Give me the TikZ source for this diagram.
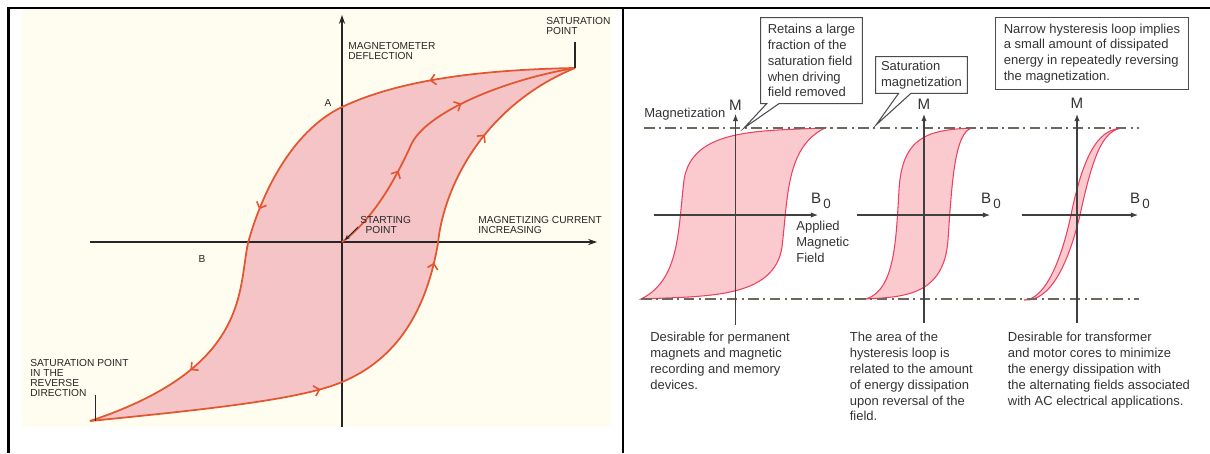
\documentclass[tikz,border=0pt]{standalone}
\usepackage{fontspec}
\setmainfont{Liberation Sans}
\usetikzlibrary{arrows.meta,shapes.callouts,decorations.markings}

\definecolor{cream}{HTML}{FFFDF0}
\definecolor{rosefill}{HTML}{F5C4C7}
\definecolor{roseline}{HTML}{E3562F}
\definecolor{pinkfill}{HTML}{FBCACE}
\definecolor{pinkline}{HTML}{EF3F5F}
\definecolor{inkgray}{HTML}{333333}
\definecolor{dashbrown}{HTML}{6F6759}

\tikzset{
  caps/.style={font=\fontsize{5.8}{5.7}\selectfont, text=black!85, inner sep=0pt, align=left},
  note/.style={font=\fontsize{7.4}{9}\selectfont, text=inkgray, inner sep=0pt, align=left},
  axislabel/.style={font=\fontsize{8.6}{9}\selectfont, text=inkgray, inner sep=0pt},
  callbox/.style={rectangle callout, draw=black!70, fill=white, line width=0.6pt,
    note, inner xsep=3pt, anchor=north west, callout pointer width=7pt},
  flow/.style={postaction={decorate, decoration={markings,
    mark=at position #1 with {\arrow{Straight Barb[length=3pt,width=6pt,line width=0.9pt]}}}}},
  oldaxis/.style={line width=0.9pt, black!85},
  newaxis/.style={line width=0.6pt, black!75, -{Latex[length=4pt,width=3pt]}},
  satline/.style={dashbrown, line width=0.7pt, dash pattern=on 6pt off 2.5pt on 1.2pt off 2.5pt},
  oldloop/.style={roseline, line width=1pt},
  newloop/.style={pinkline, fill=pinkfill, line width=0.6pt}
}

\newcommand{\bnought}{B\kern1.2pt\raisebox{-2.6pt}{\fontsize{7.6}{8}\selectfont 0}}

\begin{document}
\begin{tikzpicture}[x=0.02cm, y=-0.02cm]
  \useasboundingbox (0,0) rectangle (1210,453);

  % table frame
  \draw[line width=1.5pt] (1210,8) -- (8.5,8) -- (8.5,453);
  \draw[line width=1.5pt] (623,8) -- (623,453);

  % ---------- left: the classic loop ----------
  \fill[cream] (22,9) rectangle (611,427);

  \coordinate (o)   at (342,242);
  \coordinate (sat) at (575,68);
  \coordinate (rev) at (90,421);

  \fill[rosefill] (sat) .. controls (470,70) and (395,82) .. (342,107)
    .. controls (296,129) and (264,185) .. (248,243)
    .. controls (238,290) and (250,368) .. (rev)
    .. controls (200,410) and (300,400) .. (342,382)
    .. controls (390,362) and (425,320) .. (438,243)
    .. controls (444,185) and (485,105) .. (sat) -- cycle;

  \draw[oldaxis, -{Stealth[length=5pt,width=3.5pt]}] (342,427) -- (342,15);
  \draw[oldaxis, -{Stealth[length=5pt,width=3.5pt]}] (90,242) -- (597,242);

  \draw[oldloop, flow=0.22, flow=0.56, flow=0.83] (sat)
    .. controls (470,70) and (395,82) .. (342,107)
    .. controls (296,129) and (264,185) .. (248,243)
    .. controls (238,290) and (250,368) .. (rev);
  \draw[oldloop, flow=0.35, flow=0.62, flow=0.83] (rev)
    .. controls (200,410) and (300,400) .. (342,382)
    .. controls (390,362) and (425,320) .. (438,243)
    .. controls (444,185) and (485,105) .. (sat);
  \draw[oldloop, flow=0.30, flow=0.61] (o)
    .. controls (370,222) and (393,185) .. (411,145)
    .. controls (425,113) and (503,80) .. (sat);

  \begin{scope}[every node/.style={caps, anchor=north west}]
    \node (deflect) at (348,42)  {MAGNETOMETER\\DEFLECTION};
    \node (sattop)  at (546,17)  {SATURATION\\POINT};
    \node (satrev)  at (30,359)  {SATURATION POINT\\IN THE\\REVERSE\\DIRECTION};
    \node (start)   at (360,216) {STARTING\\\hspace*{3pt}POINT};
    \node (current) at (478,216) {MAGNETIZING CURRENT\\INCREASING};
    \node[anchor=center] (A) at (328,103) {A};
    \node[anchor=center] (B) at (202,259) {B};
  \end{scope}

  \draw[black!85, line width=0.7pt] (sat) -- ++(0,-26);
  \draw[black!85, line width=0.7pt] ([xshift=3]rev) -- ++(0,-26);
  \draw[black!85, line width=0.5pt, -{Stealth[length=3pt,width=2.5pt]}]
    ([shift={(-2,2)}]start.west) -- ([shift={(3,-2)}]o);

  % ---------- right: three kinds of loop ----------
  \coordinate (tip1) at (744,128);
  \coordinate (tip2) at (876,125);

  \filldraw[newloop] (825,128) .. controls (760,131) and (692,128) .. (684,180)
    .. controls (678,230) and (680,280) .. (641,299)
    .. controls (706,296) and (774,299) .. (782,247)
    .. controls (788,197) and (786,147) .. (825,128) -- cycle;
  \filldraw[newloop] (972,128) .. controls (930,130) and (902,135) .. (899,190)
    .. controls (896,240) and (895,290) .. (866,299)
    .. controls (905,297) and (944,295) .. (948,240)
    .. controls (952,180) and (955,132) .. (972,128) -- cycle;
  \filldraw[newloop] (1124,128) .. controls (1100,128) and (1085,150) .. (1072,210)
    .. controls (1062,260) and (1045,300) .. (1024,300)
    .. controls (1050,302) and (1068,265) .. (1080,215)
    .. controls (1092,160) and (1102,128) .. (1124,128) -- cycle;

  \draw[satline] (644,128) -- (1139,128);
  \draw[satline] (641,299) -- (1139,299);

  \draw[newaxis] (735.5,325) -- (735.5,114);
  \draw[newaxis] (654,215) -- (818,215);
  \draw[newaxis] (924,323) -- (924,114);
  \draw[newaxis] (857,215) -- (990,215);
  \draw[newaxis] (1077,323) -- (1077,114);
  \draw[newaxis] (1022,215) -- (1138,215);

  \begin{scope}[every node/.style={axislabel}]
    \node (m1) at (735.5,105) {M};
    \node (m2) at (924,104)   {M};
    \node (m3) at (1077,103)  {M};
    \node (b1) at (821,201)   {\bnought};
    \node (b2) at (991,201)   {\bnought};
    \node (b3) at (1140,201)  {\bnought};
  \end{scope}

  \node[callbox, minimum width=58pt, minimum height=49pt,
        callout absolute pointer=(tip1)] (retain) at (760,17)
    {Retains a large\\fraction of the\\saturation field\\when driving\\field removed};
  \node[callbox, minimum width=52.3pt, minimum height=21pt,
        callout absolute pointer=(tip2)] (satmag) at (875,56)
    {Saturation\\magnetization};
  \node[note, draw=black!70, line width=0.6pt, inner xsep=4pt, anchor=north west,
        minimum width=109.8pt, minimum height=41pt] (narrow) at (995,17)
    {Narrow hysteresis loop implies\\a small amount of dissipated\\energy in repeatedly reversing\\the magnetization.};

  \begin{scope}[every node/.style={note, anchor=north west}]
    \node (magn)    at (644,108) {Magnetization};
    \node (applied) at (796,221) {Applied\\Magnetic\\Field};
    \node (hard)    at (650,332) {Desirable for permanent\\magnets and magnetic\\recording and memory\\devices.};
    \node (area)    at (849.5,332) {The area of the\\hysteresis loop is\\related to the amount\\of energy dissipation\\upon reversal of the\\field.};
    \node (soft)    at (1007.5,332) {Desirable for transformer\\and motor cores to minimize\\the energy dissipation with\\the alternating fields associated\\with AC electrical applications.};
  \end{scope}

\end{tikzpicture}
\end{document}
